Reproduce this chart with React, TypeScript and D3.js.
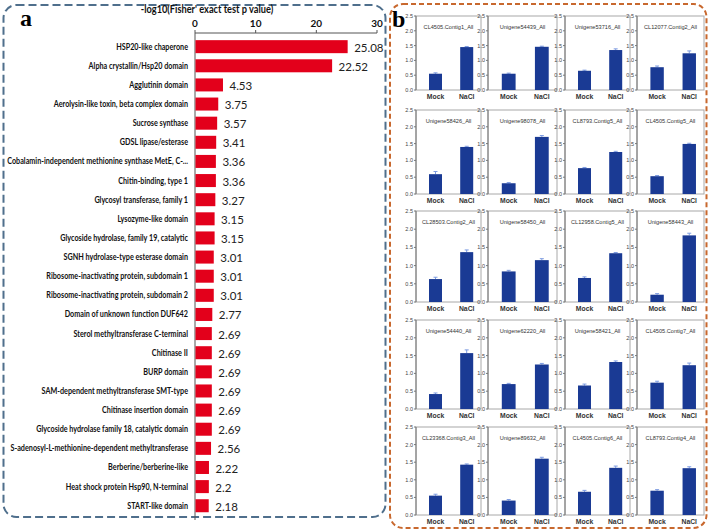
import React from "react";
import * as d3 from "d3";

const domains = [
  "HSP20-like chaperone",
  "Alpha crystallin/Hsp20 domain",
  "Agglutinin domain",
  "Aerolysin-like toxin, beta complex domain",
  "Sucrose synthase",
  "GDSL lipase/esterase",
  "Cobalamin-independent methionine synthase MetE, C-...",
  "Chitin-binding, type 1",
  "Glycosyl transferase, family 1",
  "Lysozyme-like domain",
  "Glycoside hydrolase, family 19, catalytic",
  "SGNH hydrolase-type esterase domain",
  "Ribosome-inactivating protein, subdomain 1",
  "Ribosome-inactivating protein, subdomain 2",
  "Domain of unknown function DUF642",
  "Sterol methyltransferase C-terminal",
  "Chitinase II",
  "BURP domain",
  "SAM-dependent methyltransferase SMT-type",
  "Chitinase insertion domain",
  "Glycoside hydrolase family 18, catalytic domain",
  "S-adenosyl-L-methionine-dependent methyltransferase",
  "Berberine/berberine-like",
  "Heat shock protein Hsp90, N-terminal",
  "START-like domain",
];
const pvals = [
  25.08, 22.52, 4.53, 3.75, 3.57, 3.41, 3.36, 3.36, 3.27, 3.15, 3.15, 3.01, 3.01,
  3.01, 2.77, 2.69, 2.69, 2.69, 2.69, 2.69, 2.69, 2.56, 2.22, 2.2, 2.18,
];
const xTicks = [0, 10, 20, 30];

const geneNames = [
  "CL4505.Contig1_All", "Unigene54439_All", "Unigene53716_All", "CL12077.Contig2_All",
  "Unigene58426_All", "Unigene98078_All", "CL8793.Contig5_All", "CL4505.Contig5_All",
  "CL28503.Contig2_All", "Unigene58450_All", "CL12958.Contig5_All", "Unigene58443_All",
  "Unigene54440_All", "Unigene62220_All", "Unigene58421_All", "CL4505.Contig7_All",
  "CL23368.Contig3_All", "Unigene89632_All", "CL4505.Contig6_All", "CL8793.Contig4_All",
];
const conditions = ["Mock", "NaCl"];
const mockVals = [
  0.55, 0.55, 0.65, 0.77, 0.59, 0.32, 0.77, 0.53, 0.63, 0.84, 0.66, 0.2, 0.42, 0.7,
  0.66, 0.74, 0.55, 0.41, 0.66, 0.69,
];
const naclVals = [
  1.45, 1.46, 1.35, 1.24, 1.4, 1.7, 1.25, 1.49, 1.37, 1.15, 1.34, 1.83, 1.57, 1.25,
  1.32, 1.23, 1.43, 1.6, 1.34, 1.33,
];
const mockErr = [
  0.03, 0.02, 0.02, 0.04, 0.08, 0.02, 0.02, 0.02, 0.05, 0.03, 0.03, 0.03, 0.03, 0.02,
  0.04, 0.04, 0.04, 0.03, 0.04, 0.03,
];
const naclErr = [
  0.02, 0.02, 0.04, 0.08, 0.02, 0.04, 0.02, 0.02, 0.06, 0.04, 0.02, 0.06, 0.09, 0.03,
  0.03, 0.06, 0.02, 0.04, 0.05, 0.04,
];
const yTicksSmall = [0, 0.5, 1.0, 1.5, 2.0, 2.5];

// layout constants
const rowTop = [16, 110, 211, 320, 427];
const rowBottom = [90, 194, 302, 409, 515];
const colLeft = [416, 488, 565, 637];
const colRight = [481, 557, 630, 704];

const labelFont = "'Lato', 'Open Sans', sans-serif";
const valueFont = "'Lato', 'Open Sans', sans-serif";
const smallFont = "'Liberation Sans', Arial, sans-serif";
const SQ = 0.84; // horizontal squeeze to mimic a condensed face

function PanelA() {
  const x = d3.scaleLinear().domain([0, 30]).range([195, 377]);
  const y = d3
    .scaleBand<string>()
    .domain(domains)
    .range([37.1, 515.3])
    .paddingInner(0.32)
    .paddingOuter(0.16);
  return (
    <g>
      <text x={20} y={26} fontFamily="'Liberation Serif', serif" fontWeight="bold" fontSize={24}>
        a
      </text>
      <g transform={`translate(207,13) scale(0.88,1)`}>
        <text
          x={0}
          y={0}
          textAnchor="middle"
          fontFamily={labelFont}
          fontWeight="bold"
          fontSize={10.5}
          fill="#111"
        >
          -log10(Fisher' exact test p value)
        </text>
      </g>
      <line x1={x(0)} x2={x(30)} y1={33} y2={33} stroke="#555" strokeWidth={1} />
      <line x1={x(0)} x2={x(0)} y1={33} y2={520} stroke="#555" strokeWidth={1} />
      {xTicks.map((t) => (
        <g key={t}>
          <line x1={x(t)} x2={x(t)} y1={33} y2={30} stroke="#555" />
          <text
            x={x(t)}
            y={27}
            textAnchor="middle"
            fontFamily={labelFont}
            fontWeight="bold"
            fontSize={10}
            fill="#111"
          >
            {t}
          </text>
        </g>
      ))}
      {domains.map((d, i) => {
        const yy = y(d)!;
        const bw = y.bandwidth();
        return (
          <g key={d}>
            <rect x={x(0) + 0.5} y={yy} width={x(pvals[i]) - x(0)} height={bw} fill="#e3001b" />
            <g transform={`translate(188,${yy + bw / 2}) scale(${SQ},1)`}>
              <text
                x={0}
                y={0}
                dy="0.35em"
                textAnchor="end"
                fontFamily={labelFont}
                fontWeight="bold"
                fontSize={8.6}
                fill="#111"
              >
                {d}
              </text>
            </g>
            <text
              x={x(pvals[i]) + 7}
              y={yy + bw / 2 + 1}
              dy="0.35em"
              fontFamily={valueFont}
              fontSize={11.5}
              fill="#222"
            >
              {pvals[i]}
            </text>
          </g>
        );
      })}
    </g>
  );
}

function SmallChart({ idx }: { idx: number }) {
  const r = Math.floor(idx / 4);
  const c = idx % 4;
  const left = colLeft[c];
  const right = colRight[c];
  const top = rowTop[r];
  const bottom = rowBottom[r];
  const w = right - left;
  const y = d3.scaleLinear().domain([0, 2.5]).range([bottom, top]);
  const xp = d3.scalePoint<string>().domain(conditions).range([left + 0.3 * w, left + 0.78 * w]);
  const bw = 0.2 * w;
  const vals = [mockVals[idx], naclVals[idx]];
  const errs = [mockErr[idx], naclErr[idx]];
  return (
    <g>
      <rect x={left} y={top} width={w} height={bottom - top} fill="white" stroke="#a8a8a8" strokeWidth={1} />
      <line x1={left} x2={left} y1={top} y2={bottom} stroke="#777" />
      {yTicksSmall.map((t) => (
        <g key={t}>
          <line x1={left - 2} x2={left} y1={y(t)} y2={y(t)} stroke="#777" />
          <text
            x={left - 3}
            y={y(t)}
            dy="0.35em"
            textAnchor="end"
            fontFamily={smallFont}
            fontSize={5.5}
            fill="#444"
          >
            {t.toFixed(1)}
          </text>
        </g>
      ))}
      <text
        x={left + w / 2}
        y={top + 13}
        textAnchor="middle"
        fontFamily={smallFont}
        fontSize={5.6}
        fill="#333"
      >
        {geneNames[idx]}
      </text>
      {conditions.map((cond, k) => {
        const cx = xp(cond)!;
        const v = vals[k];
        const e = errs[k];
        return (
          <g key={cond}>
            <line x1={cx} x2={cx} y1={y(v)} y2={y(v + e)} stroke="#7d9be0" strokeWidth={1} />
            <line x1={cx - 2} x2={cx + 2} y1={y(v + e)} y2={y(v + e)} stroke="#7d9be0" strokeWidth={1} />
            <rect x={cx - bw / 2} y={y(v)} width={bw} height={bottom - y(v)} fill="#1a3a94" />
            <text
              x={cx}
              y={bottom + 9}
              textAnchor="middle"
              fontFamily={smallFont}
              fontWeight="bold"
              fontSize={6.8}
              fill="#333"
            >
              {cond}
            </text>
          </g>
        );
      })}
    </g>
  );
}

function PanelB() {
  return (
    <g>
      <text x={392} y={27} fontFamily="'Liberation Serif', serif" fontWeight="bold" fontSize={24}>
        b
      </text>
      {geneNames.map((g, i) => (
        <SmallChart key={g} idx={i} />
      ))}
    </g>
  );
}

export default function App() {
  return (
    <svg
      width={709}
      height={531}
      style={{ position: "absolute", left: 0, top: 0, background: "white" }}
    >
      <rect x={0} y={0} width={709} height={531} fill="white" />
      <rect
        x={3.5}
        y={5}
        width={382}
        height={512}
        rx={13}
        fill="none"
        stroke="#4f6f8c"
        strokeWidth={2}
        strokeDasharray="8,4"
      />
      <rect
        x={390}
        y={4}
        width={316.5}
        height={524}
        rx={13}
        fill="none"
        stroke="#c8682e"
        strokeWidth={2}
        strokeDasharray="5,3"
      />
      <PanelA />
      <PanelB />
    </svg>
  );
}
